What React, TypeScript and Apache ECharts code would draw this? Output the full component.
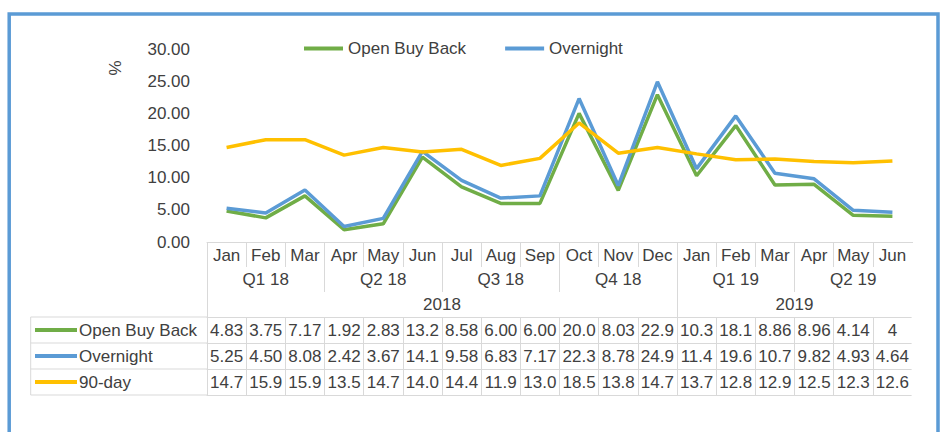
import React, { useEffect, useRef } from "react";
import * as echarts from "echarts";

const months = ["Jan", "Feb", "Mar", "Apr", "May", "Jun", "Jul", "Aug", "Sep", "Oct", "Nov", "Dec", "Jan", "Feb", "Mar", "Apr", "May", "Jun"];
const quarters = ["Q1 18", "Q2 18", "Q3 18", "Q4 18", "Q1 19", "Q2 19"];
const years = ["2018", "2019"];
const yearSpans = [12, 6];

const seriesNames = ["Open Buy Back", "Overnight", "90-day"];
const openBuyBack = ["4.83", "3.75", "7.17", "1.92", "2.83", "13.2", "8.58", "6.00", "6.00", "20.0", "8.03", "22.9", "10.3", "18.1", "8.86", "8.96", "4.14", "4"];
const overnight = ["5.25", "4.50", "8.08", "2.42", "3.67", "14.1", "9.58", "6.83", "7.17", "22.3", "8.78", "24.9", "11.4", "19.6", "10.7", "9.82", "4.93", "4.64"];
const ninetyDay = ["14.7", "15.9", "15.9", "13.5", "14.7", "14.0", "14.4", "11.9", "13.0", "18.5", "13.8", "14.7", "13.7", "12.8", "12.9", "12.5", "12.3", "12.6"];

const yMin = 0;
const yMax = 30;
const yStep = 5;

const FONT = "'Liberation Sans', Arial, sans-serif";
const TEXT = "#404040";
const LINEC = "#d9d9d9";
const COLORS = ["#70AD47", "#5B9BD5", "#FFC000"];
const FS = 17;

export default function App() {
  const ref = useRef<HTMLDivElement>(null);

  useEffect(() => {
    const chart = echarts.init(ref.current!, null, { renderer: "svg" });
    const rows = [openBuyBack, overnight, ninetyDay];
    const total = months.length;
    const yearBounds = [0];
    yearSpans.forEach((s) => yearBounds.push(yearBounds[yearBounds.length - 1] + s));
    const yearCenters = yearSpans.map((s, i) => yearBounds[i] + s / 2);

    const label = (margin: number) => ({
      show: true,
      interval: 0,
      margin,
      color: TEXT,
      fontSize: FS,
      fontFamily: FONT,
    });
    const tick = (length: number) => ({
      show: true,
      interval: 0,
      length,
      lineStyle: { color: LINEC, width: 1 },
    });

    const rowAxes = rows.map((r, i) => ({
      type: "category",
      data: r,
      position: "bottom",
      offset: 75 + 26 * i,
      boundaryGap: true,
      axisLine: { show: true, lineStyle: { color: LINEC, width: 1 } },
      axisTick: tick(26),
      axisLabel: label(4.5),
      splitLine: { show: false },
    }));

    const tableTop = 317;
    const rowH = 26;
    const tableLeft = 30.7;
    const gridLeft = 207;

    const graphic: any[] = [
      {
        type: "rect",
        shape: { x: 9.2, y: 14, width: 928.8, height: 500 },
        style: { fill: "none", stroke: "#5B9BD5", lineWidth: 3.5 },
        z: 100,
      },
      {
        type: "text",
        x: 115,
        y: 68,
        rotation: Math.PI / 2,
        style: { text: "%", fill: TEXT, fontSize: FS, fontFamily: FONT, align: "center", verticalAlign: "middle" },
      },
      {
        type: "line",
        shape: { x1: tableLeft, y1: tableTop, x2: tableLeft, y2: tableTop + rowH * 3 },
        style: { stroke: LINEC, lineWidth: 1 },
      },
      {
        type: "rect",
        shape: { x: 911.6, y: 243, width: 4, height: 154 },
        style: { fill: "#fff" },
        z: 50,
      },
    ];
    for (let i = 0; i <= 3; i++) {
      graphic.push({
        type: "line",
        shape: { x1: tableLeft, y1: tableTop + rowH * i, x2: gridLeft, y2: tableTop + rowH * i },
        style: { stroke: LINEC, lineWidth: 1 },
      });
    }
    seriesNames.forEach((n, i) => {
      const cy = tableTop + rowH * i + rowH / 2;
      graphic.push({
        type: "line",
        shape: { x1: 35, y1: cy, x2: 77, y2: cy },
        style: { stroke: COLORS[i], lineWidth: 4 },
      });
      graphic.push({
        type: "text",
        x: 79,
        y: cy,
        style: { text: n, fill: TEXT, fontSize: FS, fontFamily: FONT, align: "left", verticalAlign: "middle" },
      });
    });

    chart.setOption({
      animation: false,
      textStyle: { fontFamily: FONT },
      grid: { left: gridLeft, right: 33, top: 49, bottom: 190, outerBoundsMode: "none" },
      legend: {
        data: ["Open Buy Back", "Overnight"],
        left: 304,
        top: 40,
        padding: 0,
        icon: "rect",
        itemWidth: 39,
        itemHeight: 4,
        itemGap: 39,
        textStyle: { fontSize: FS, color: TEXT, fontFamily: FONT },
      },
      xAxis: [
        {
          type: "category",
          data: months,
          position: "bottom",
          offset: 0,
          boundaryGap: true,
          axisLine: { show: true, lineStyle: { color: LINEC, width: 1 } },
          axisTick: tick(25),
          axisLabel: label(4.5),
          splitLine: { show: false },
        },
        {
          type: "category",
          data: quarters,
          position: "bottom",
          offset: 25,
          boundaryGap: true,
          axisLine: { show: false },
          axisTick: tick(25),
          axisLabel: label(3.5),
          splitLine: { show: false },
        },
        {
          type: "value",
          min: 0,
          max: total,
          position: "bottom",
          offset: 50,
          axisLine: { show: false },
          splitLine: { show: false },
          axisTick: { show: true, customValues: yearBounds.slice(0, -1), length: 25, lineStyle: { color: LINEC, width: 1 } },
          axisLabel: {
            show: true,
            customValues: yearCenters,
            margin: 3.5,
            color: TEXT,
            fontSize: FS,
            fontFamily: FONT,
            formatter: (v: number) => {
              const k = yearCenters.indexOf(v);
              return k >= 0 ? years[k] : "";
            },
          },
        },
        ...rowAxes,
        {
          type: "category",
          data: months,
          position: "bottom",
          offset: 153,
          boundaryGap: true,
          axisLine: { show: true, lineStyle: { color: LINEC, width: 1 } },
          axisTick: { show: false },
          axisLabel: { show: false },
          splitLine: { show: false },
        },
      ],
      yAxis: {
        type: "value",
        min: yMin,
        max: yMax,
        interval: yStep,
        axisLine: { show: false },
        axisTick: { show: false },
        splitLine: { show: false },
        axisLabel: {
          margin: 17,
          color: TEXT,
          fontSize: FS,
          fontFamily: FONT,
          formatter: (v: number) => v.toFixed(2),
        },
      },
      series: rows.map((r, i) => ({
        name: seriesNames[i],
        type: "line",
        xAxisIndex: 0,
        yAxisIndex: 0,
        data: r.map(Number),
        symbol: "none",
        lineStyle: { color: COLORS[i], width: 3.5 },
        itemStyle: { color: COLORS[i] },
      })),
      graphic,
    });

    return () => chart.dispose();
  }, []);

  return (
    <div
      ref={ref}
      style={{ position: "fixed", left: 0, top: 0, width: 945, height: 432, background: "#fff" }}
    />
  );
}
